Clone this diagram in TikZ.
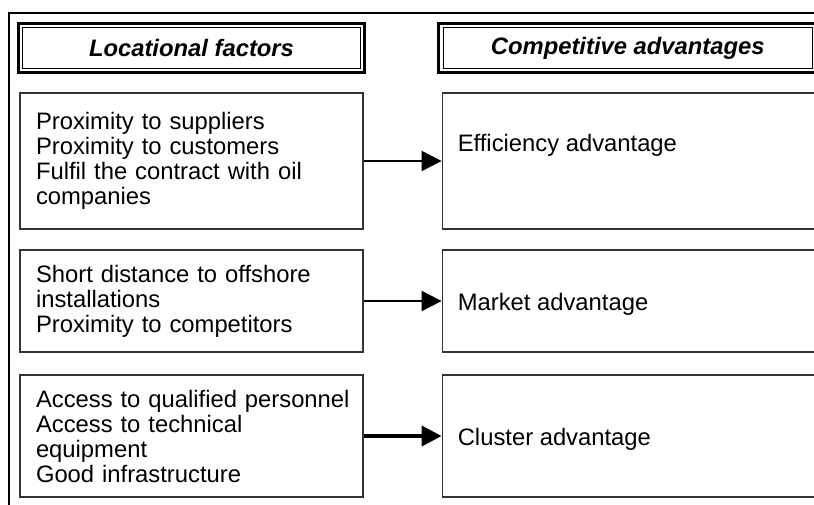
\documentclass[tikz,border=0pt]{standalone}
\usepackage{fontspec}
\setmainfont{Liberation Sans}
\usetikzlibrary{arrows.meta,positioning}

\newcommand*{\pw}{814}
\newcommand*{\ph}{505}
\newcommand*{\boxfont}{\fontsize{23.8}{25}\selectfont}

\begin{document}
\begin{tikzpicture}
[
	x=1pt,
	y=-1pt,
	headbox/.style={draw,line width=3.3pt,minimum height=48.7pt,inner sep=0pt,font=\boxfont\bfseries\itshape},
	headline/.style={line width=0.9pt},
	factorbox/.style={draw=black!80,line width=1.2pt,text width=311pt,inner xsep=16pt,inner ysep=0pt,align=left,font=\boxfont,
		execute at begin node={\rightskip=-9pt plus 1fil\relax}},
	advbox/.style={draw=black!80,line width=1.2pt,minimum width=376pt,inner sep=0pt},
	advtext/.style={anchor=base west,inner sep=0pt,font=\boxfont},
	flow/.style={-{Triangle[length=20pt,width=20pt]},line width=2pt}
]

	% page
	\clip (0,0) rectangle (\pw,\ph);
	\fill[white] (0,0) rectangle (\pw,\ph);

	% frame
	\draw[line width=1.5pt] (9,\ph+5) -- (9,13) -- (\pw+5,13);

	% headers
	\node[headbox,minimum width=345.7pt] at (191.5,48) (lochead) {Locational factors};
	\draw[headline] ([shift={(5.8,5.8)}]lochead.north west) rectangle ([shift={(-5.8,-5.8)}]lochead.south east);
	\node[headbox,minimum width=378pt] at (627.8,48) (comphead) {Competitive advantages};
	\draw[headline] ([shift={(5.8,5.8)}]comphead.north west) rectangle ([shift={(-5.8,-5.8)}]comphead.south east);

	% locational factors
	\node[factorbox,minimum height=136pt] at (191.5,161) (loc1) {%
		Proximity to suppliers\\
		Proximity to customers\\
		Fulfil the contract with oil\\
		companies};
	\node[factorbox,minimum height=102pt] at (191.5,301) (loc2) {%
		Short distance to offshore\\
		installations\\
		Proximity to competitors};
	\node[factorbox,minimum height=122pt] at (191.5,436) (loc3) {%
		Access to qualified personnel\\
		Access to technical\\
		equipment\\
		Good infrastructure};

	% competitive advantages
	\node[advbox,minimum height=136pt,right=78pt of loc1] (adv1) {};
	\node[advbox,minimum height=102pt,right=78pt of loc2] (adv2) {};
	\node[advbox,minimum height=122pt,right=78pt of loc3] (adv3) {};

	% advantage labels
	\node[advtext] at ([xshift=16pt,yshift=9pt]adv1.west) (efftext) {Efficiency advantage};
	\node[advtext] at ([xshift=16pt,yshift=-9.5pt]adv2.west) (markettext) {Market advantage};
	\node[advtext] at ([xshift=16pt,yshift=-9pt]adv3.west) (clustertext) {Cluster advantage};

	% arrows
	\draw[flow] (loc1) -- (adv1);
	\draw[flow] (loc2) -- (adv2);
	\draw[flow,line width=4pt] (loc3) -- (adv3);

\end{tikzpicture}
\end{document}
